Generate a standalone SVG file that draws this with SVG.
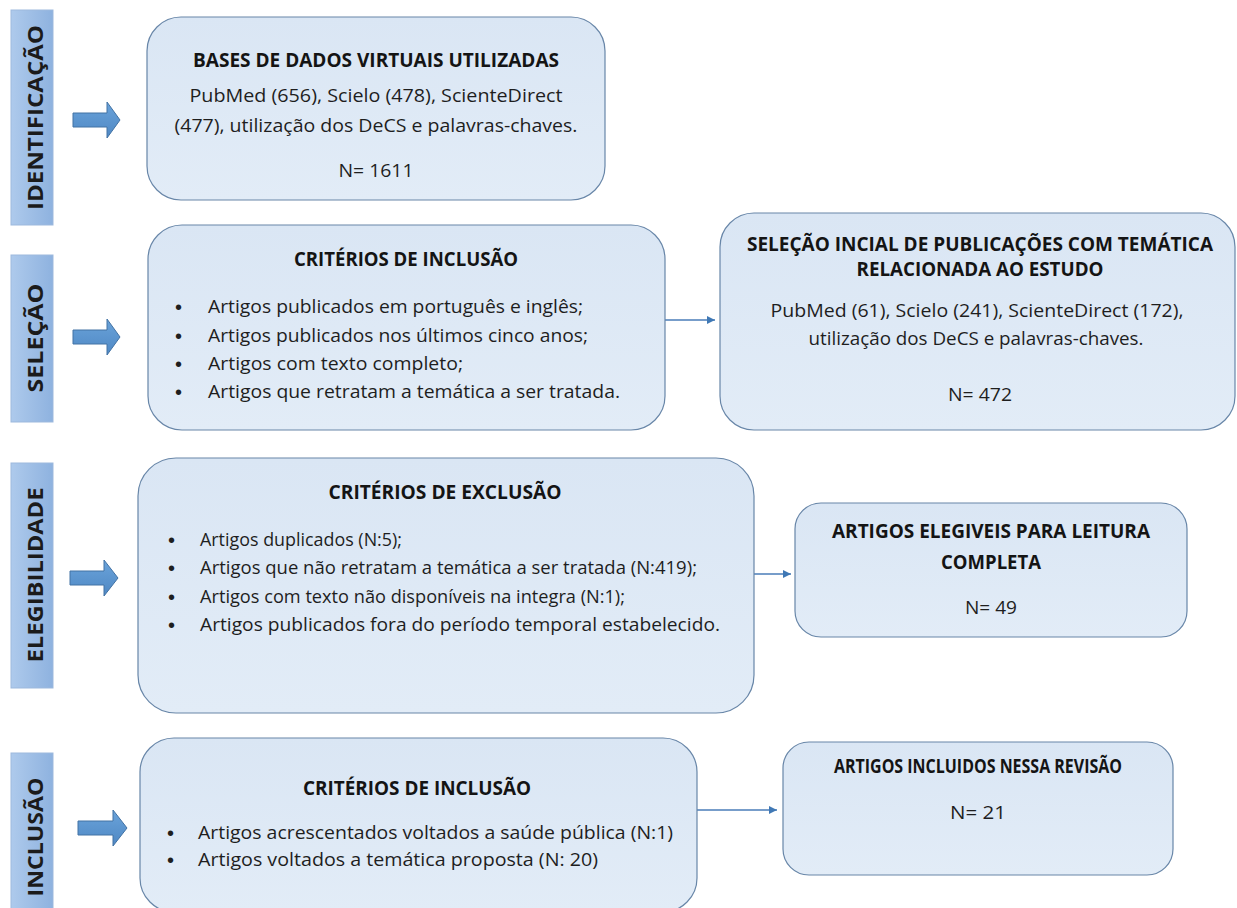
<svg xmlns="http://www.w3.org/2000/svg" width="1237" height="908" viewBox="0 0 1237 908">
<defs>
<linearGradient id="barGrad" x1="0" y1="0" x2="1" y2="0">
<stop offset="0" stop-color="#AECAEC"/>
<stop offset="1" stop-color="#8EB2DF"/>
</linearGradient>
<linearGradient id="boxGrad" x1="0" y1="0" x2="0" y2="1">
<stop offset="0" stop-color="#DAE6F4"/>
<stop offset="1" stop-color="#E2ECF7"/>
</linearGradient>
<linearGradient id="arrGrad" x1="0" y1="0" x2="0" y2="1">
<stop offset="0" stop-color="#6AA3DA"/>
<stop offset="1" stop-color="#4F88C4"/>
</linearGradient>
<marker id="ah" viewBox="0 0 10 10" refX="10" refY="5" markerWidth="8" markerHeight="8" markerUnits="userSpaceOnUse" orient="auto">
<path d="M0,0 L10,5 L0,10 Z" fill="#3F78B5"/>
</marker>
</defs>
<style>
.bar{fill:url(#barGrad);stroke:#9DB9DD;stroke-width:1}
.bl{font-family:"Open Sans","Liberation Sans",sans-serif;font-weight:700;font-size:22px;fill:#1B1B1B}
.box{fill:url(#boxGrad);stroke:#6886A8;stroke-width:1.2}
.t{font-family:"Open Sans","Liberation Sans",sans-serif;font-weight:700;font-size:19px;fill:#141414}
.b{font-family:"Open Sans","Liberation Sans",sans-serif;font-size:19px;fill:#1E1E1E}
.dot{font-family:"Liberation Sans",sans-serif;font-size:20px;fill:#1E1E1E}
.arr{fill:url(#arrGrad);stroke:#4272A4;stroke-width:1}
.con{stroke:#4A7DB8;stroke-width:1.3;fill:none}
</style>
<rect width="1237" height="908" fill="#FFFFFF"/>

<g id="stage-identificacao">
<rect class="bar" x="11" y="10" width="42" height="215"/>
<text class="bl" transform="translate(42.5,117.5) rotate(-90)" text-anchor="middle" textLength="185" lengthAdjust="spacingAndGlyphs">IDENTIFICAÇÃO</text>
</g>
<g id="stage-selecao">
<rect class="bar" x="11" y="255" width="42" height="167"/>
<text class="bl" transform="translate(42.5,338) rotate(-90)" text-anchor="middle" textLength="109" lengthAdjust="spacingAndGlyphs">SELEÇÃO</text>
</g>
<g id="stage-elegibilidade">
<rect class="bar" x="11" y="463" width="42" height="225"/>
<text class="bl" transform="translate(42.5,575) rotate(-90)" text-anchor="middle" textLength="175" lengthAdjust="spacingAndGlyphs">ELEGIBILIDADE</text>
</g>
<g id="stage-inclusao">
<rect class="bar" x="11" y="753" width="42" height="160"/>
<text class="bl" transform="translate(42.5,837) rotate(-90)" text-anchor="middle" textLength="119" lengthAdjust="spacingAndGlyphs">INCLUSÃO</text>
</g>

<g id="block-arrows">
<path class="arr" d="M73,113 H107 V102 L120,120 L107,138 V127 H73 Z"/>
<path class="arr" d="M73,330 H107 V319 L120,337 L107,355 V344 H73 Z"/>
<path class="arr" d="M70,571 H104 V560 L118,578 L104,596 V585 H70 Z"/>
<path class="arr" d="M78,821 H113 V810 L127,828 L113,846 V835 H78 Z"/>
</g>

<g id="connectors">
<line class="con" x1="665" y1="320" x2="715" y2="320" marker-end="url(#ah)"/>
<line class="con" x1="754" y1="574" x2="791" y2="574" marker-end="url(#ah)"/>
<line class="con" x1="697" y1="810" x2="777" y2="810" marker-end="url(#ah)"/>
</g>

<g id="box-bases">
<rect class="box" x="147" y="17" width="458" height="183" rx="34" ry="34"/>
<text class="t" x="376" y="67" text-anchor="middle" textLength="366" lengthAdjust="spacingAndGlyphs">BASES DE DADOS VIRTUAIS UTILIZADAS</text>
<text class="b" x="376" y="102" text-anchor="middle" textLength="373" lengthAdjust="spacingAndGlyphs">PubMed (656), Scielo (478), ScienteDirect</text>
<text class="b" x="376" y="132" text-anchor="middle" textLength="403" lengthAdjust="spacingAndGlyphs">(477), utilização dos DeCS e palavras-chaves.</text>
<text class="b" x="376" y="177" text-anchor="middle" textLength="75" lengthAdjust="spacingAndGlyphs">N= 1611</text>
</g>

<g id="box-inclusao-criterios">
<rect class="box" x="148" y="225" width="517" height="205" rx="34" ry="34"/>
<text class="t" x="406" y="266" text-anchor="middle" textLength="224" lengthAdjust="spacingAndGlyphs">CRITÉRIOS DE INCLUSÃO</text>
<text class="dot" x="175" y="314">•</text>
<text class="b" x="208" y="313" textLength="375" lengthAdjust="spacingAndGlyphs">Artigos publicados em português e inglês;</text>
<text class="dot" x="175" y="343">•</text>
<text class="b" x="208" y="342" textLength="380" lengthAdjust="spacingAndGlyphs">Artigos publicados nos últimos cinco anos;</text>
<text class="dot" x="175" y="371">•</text>
<text class="b" x="208" y="370" textLength="255" lengthAdjust="spacingAndGlyphs">Artigos com texto completo;</text>
<text class="dot" x="175" y="399">•</text>
<text class="b" x="208" y="398" textLength="412" lengthAdjust="spacingAndGlyphs">Artigos que retratam a temática a ser tratada.</text>
</g>

<g id="box-selecao-inicial">
<rect class="box" x="720" y="213" width="515" height="217" rx="34" ry="34"/>
<text class="t" x="980" y="251" text-anchor="middle" textLength="466" lengthAdjust="spacingAndGlyphs">SELEÇÃO INCIAL DE PUBLICAÇÕES COM TEMÁTICA</text>
<text class="t" x="980" y="276" text-anchor="middle" textLength="247" lengthAdjust="spacingAndGlyphs">RELACIONADA AO ESTUDO</text>
<text class="b" x="977" y="317" text-anchor="middle" textLength="413" lengthAdjust="spacingAndGlyphs">PubMed (61), Scielo (241), ScienteDirect (172),</text>
<text class="b" x="976" y="345" text-anchor="middle" textLength="335" lengthAdjust="spacingAndGlyphs">utilização dos DeCS e palavras-chaves.</text>
<text class="b" x="980" y="401" text-anchor="middle" textLength="64" lengthAdjust="spacingAndGlyphs">N= 472</text>
</g>

<g id="box-exclusao">
<rect class="box" x="138" y="458" width="616" height="255" rx="38" ry="38"/>
<text class="t" x="445" y="499" text-anchor="middle" textLength="233" lengthAdjust="spacingAndGlyphs">CRITÉRIOS DE EXCLUSÃO</text>
<text class="dot" x="168" y="547">•</text>
<text class="b" x="200" y="546" textLength="202" lengthAdjust="spacingAndGlyphs">Artigos duplicados (N:5);</text>
<text class="dot" x="168" y="575">•</text>
<text class="b" x="200" y="574" textLength="497" lengthAdjust="spacingAndGlyphs">Artigos que não retratam a temática a ser tratada (N:419);</text>
<text class="dot" x="168" y="604">•</text>
<text class="b" x="200" y="603" textLength="425" lengthAdjust="spacingAndGlyphs">Artigos com texto não disponíveis na integra (N:1);</text>
<text class="dot" x="168" y="632">•</text>
<text class="b" x="200" y="631" textLength="520" lengthAdjust="spacingAndGlyphs">Artigos publicados fora do período temporal estabelecido.</text>
</g>

<g id="box-elegiveis">
<rect class="box" x="795" y="503" width="392" height="134" rx="26" ry="26"/>
<text class="t" x="991" y="538" text-anchor="middle" textLength="318" lengthAdjust="spacingAndGlyphs">ARTIGOS ELEGIVEIS PARA LEITURA</text>
<text class="t" x="991" y="569" text-anchor="middle" textLength="100" lengthAdjust="spacingAndGlyphs">COMPLETA</text>
<text class="b" x="991" y="614" text-anchor="middle" textLength="52" lengthAdjust="spacingAndGlyphs">N= 49</text>
</g>

<g id="box-inclusao-final">
<rect class="box" x="140" y="738" width="557" height="174" rx="34" ry="34"/>
<text class="t" x="417" y="795" text-anchor="middle" textLength="228" lengthAdjust="spacingAndGlyphs">CRITÉRIOS DE INCLUSÃO</text>
<text class="dot" x="167" y="840">•</text>
<text class="b" x="198" y="839" textLength="475" lengthAdjust="spacingAndGlyphs">Artigos acrescentados voltados a saúde pública (N:1)</text>
<text class="dot" x="167" y="867">•</text>
<text class="b" x="198" y="866" textLength="400" lengthAdjust="spacingAndGlyphs">Artigos voltados a temática proposta (N: 20)</text>
</g>

<g id="box-incluidos">
<rect class="box" x="783" y="742" width="390" height="133" rx="26" ry="26"/>
<text class="t" x="978" y="773" text-anchor="middle" font-size="16" textLength="288" lengthAdjust="spacingAndGlyphs">ARTIGOS INCLUIDOS NESSA REVISÃO</text>
<text class="b" x="978" y="819" text-anchor="middle" textLength="56" lengthAdjust="spacingAndGlyphs">N= 21</text>
</g>
</svg>
